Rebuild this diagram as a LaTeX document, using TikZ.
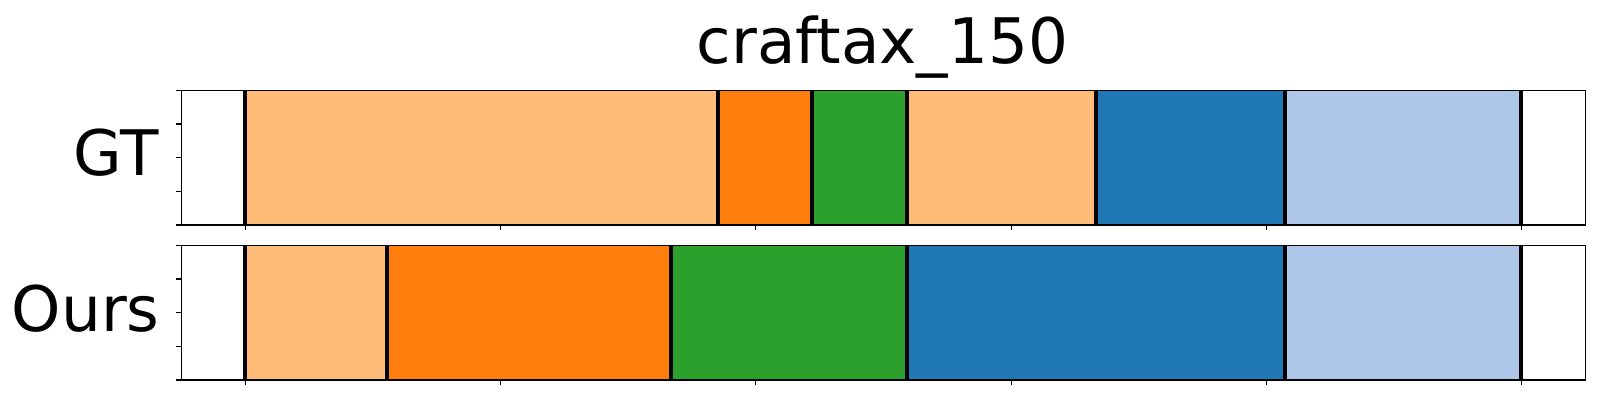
\documentclass[tikz,border=0pt]{standalone}
\usepackage{fontspec}
\setmainfont{DejaVu Sans}
\definecolor{tabLO}{HTML}{FFBB78}
\definecolor{tabO}{HTML}{FF7F0E}
\definecolor{tabG}{HTML}{2CA02C}
\definecolor{tabB}{HTML}{1F77B4}
\definecolor{tabLB}{HTML}{AEC7E8}
\tikzset{
  seg/.style={draw=none},
  bound/.style={line width=4pt, black},
  spine/.style={line width=1.1pt, black},
  tickmk/.style={line width=1.1pt, black},
  biglabel/.style={inner sep=0pt, font=\fontsize{62.8}{75}\selectfont}
}
\begin{document}
\begin{tikzpicture}[x=1pt,y=-1pt]
\useasboundingbox (0,0) rectangle (1600,400);
\fill[white] (0,0) rectangle (1600,400);
% axes extents
\def\axL{181.3}\def\axR{1585.7}
\def\gtT{90.3}\def\gtB{225}
\def\ouT{245.3}\def\ouB{380}
% GT segments
\fill[tabLO] (245,\gtT) rectangle (718,\gtB);
\fill[tabO]  (718,\gtT) rectangle (812,\gtB);
\fill[tabG]  (812,\gtT) rectangle (907,\gtB);
\fill[tabLO] (907,\gtT) rectangle (1096,\gtB);
\fill[tabB]  (1096,\gtT) rectangle (1284.7,\gtB);
\fill[tabLB] (1284.7,\gtT) rectangle (1521,\gtB);
\foreach \x in {245,718,812,907,1096,1284.7,1521}
  \draw[bound] (\x,\gtT) -- (\x,\gtB);
% Ours segments
\fill[tabLO] (245,\ouT) rectangle (387,\ouB);
\fill[tabO]  (387,\ouT) rectangle (671,\ouB);
\fill[tabG]  (671,\ouT) rectangle (907,\ouB);
\fill[tabB]  (907,\ouT) rectangle (1284.7,\ouB);
\fill[tabLB] (1284.7,\ouT) rectangle (1521,\ouB);
\foreach \x in {245,387,671,907,1284.7,1521}
  \draw[bound] (\x,\ouT) -- (\x,\ouB);
% spines
\draw[spine] (\axL,\gtT) rectangle (\axR,\gtB);
\draw[spine] (\axL,\ouT) rectangle (\axR,\ouB);
% x ticks
\foreach \k in {0,...,5} {
  \draw[tickmk] ({245.1+255.35*\k},\gtB) -- ++(0,5);
  \draw[tickmk] ({245.1+255.35*\k},\ouB) -- ++(0,5);
}
% y ticks
\foreach \k in {0,...,4} {
  \draw[tickmk] (\axL,{\gtT+(\gtB-\gtT)*\k/4}) -- ++(-5,0);
  \draw[tickmk] (\axL,{\ouT+(\ouB-\ouT)*\k/4}) -- ++(-5,0);
}
% labels
\node[biglabel, anchor=base] (title) at (882.4,63.3) {craftax\_150};
\node[biglabel, anchor=base east] (gt) at (158.8,175) {GT};
\node[biglabel, anchor=base east] (ours) at (159.8,331.7) {Ours};
\end{tikzpicture}
\end{document}
